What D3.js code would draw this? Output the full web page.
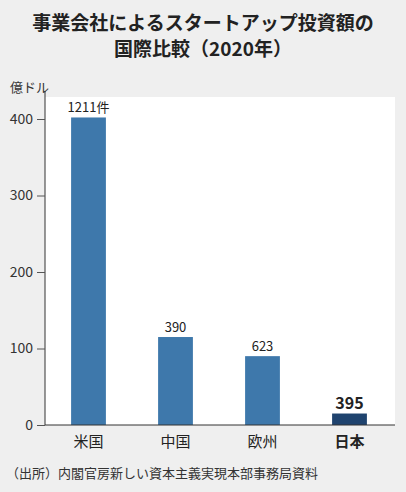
<!DOCTYPE html>
<html><head><meta charset="utf-8">
<script src="https://cdn.jsdelivr.net/npm/d3@7"></script>
<style>body{margin:0;background:#efefef;font-family:"Noto Sans CJK JP","Noto Sans",sans-serif}</style>
</head><body><svg id="c" width="406" height="492"></svg>
<script>
const categories = ["米国", "中国", "欧州", "日本"];
const values = [402, 115, 90, 15];
const counts = ["1211件", "390", "623", "395"];
const yTicks = [0, 100, 200, 300, 400];

const svg = d3.select("#c");
const plotLeft = 45, plotRight = 393, plotTop = 97, plotBottom = 425;

svg.append("text").attr("x", 203).attr("y", 30).attr("text-anchor", "middle")
  .attr("font-size", 19).attr("font-weight", "bold").attr("fill", "#222")
  .text("事業会社によるスタートアップ投資額の");
svg.append("text").attr("x", 203).attr("y", 56).attr("text-anchor", "middle")
  .attr("font-size", 19).attr("font-weight", "bold").attr("fill", "#222")
  .text("国際比較（2020年）");

svg.append("rect").attr("x", plotLeft).attr("y", plotTop).attr("width", plotRight - plotLeft + 2)
  .attr("height", plotBottom - plotTop).attr("fill", "#fff");

const x = d3.scaleBand().domain(categories).range([plotLeft, plotRight]).paddingInner(0.6).paddingOuter(0.3);
const y = d3.scaleLinear().domain([0, 400]).range([plotBottom, 119]);

svg.append("text").attr("x", 10).attr("y", 92).attr("font-size", 13).attr("fill", "#333").text("億ドル");

const ya = svg.append("g").attr("transform", `translate(${plotLeft},0)`)
  .call(d3.axisLeft(y).tickValues(yTicks).tickSize(8).tickPadding(4));
ya.select(".domain").attr("d", `M0,${plotTop - 6}V${plotBottom}`).attr("stroke", "#333");
ya.selectAll(".tick line").attr("stroke", "#555");
ya.selectAll("text").attr("font-size", 14).attr("fill", "#333").attr("font-family", "Noto Sans CJK JP");

svg.selectAll(".bar").data(values).enter().append("rect")
  .attr("x", (d, i) => x(categories[i])).attr("width", x.bandwidth())
  .attr("y", d => y(d)).attr("height", d => plotBottom - y(d))
  .attr("fill", (d, i) => i === 3 ? "#1f436e" : "#3e78ab");

svg.selectAll(".cnt").data(values).enter().append("text")
  .attr("x", (d, i) => x(categories[i]) + x.bandwidth() / 2).attr("y", d => y(d) - 5)
  .attr("text-anchor", "middle").attr("font-size", (d, i) => i === 3 ? 16 : 13)
  .attr("font-weight", (d, i) => i === 3 ? "bold" : "normal").attr("fill", "#222")
  .text((d, i) => counts[i]);

svg.append("line").attr("x1", plotLeft).attr("x2", plotRight + 2).attr("y1", plotBottom).attr("y2", plotBottom)
  .attr("stroke", "#333");

svg.selectAll(".cat").data(categories).enter().append("text")
  .attr("x", d => x(d) + x.bandwidth() / 2).attr("y", 447).attr("text-anchor", "middle")
  .attr("font-size", 15).attr("font-weight", (d, i) => i === 3 ? "bold" : "normal").attr("fill", "#222")
  .text(d => d);

svg.append("text").attr("x", 6).attr("y", 478).attr("font-size", 13).attr("fill", "#333")
  .text("（出所）内閣官房新しい資本主義実現本部事務局資料");
</script></body></html>
